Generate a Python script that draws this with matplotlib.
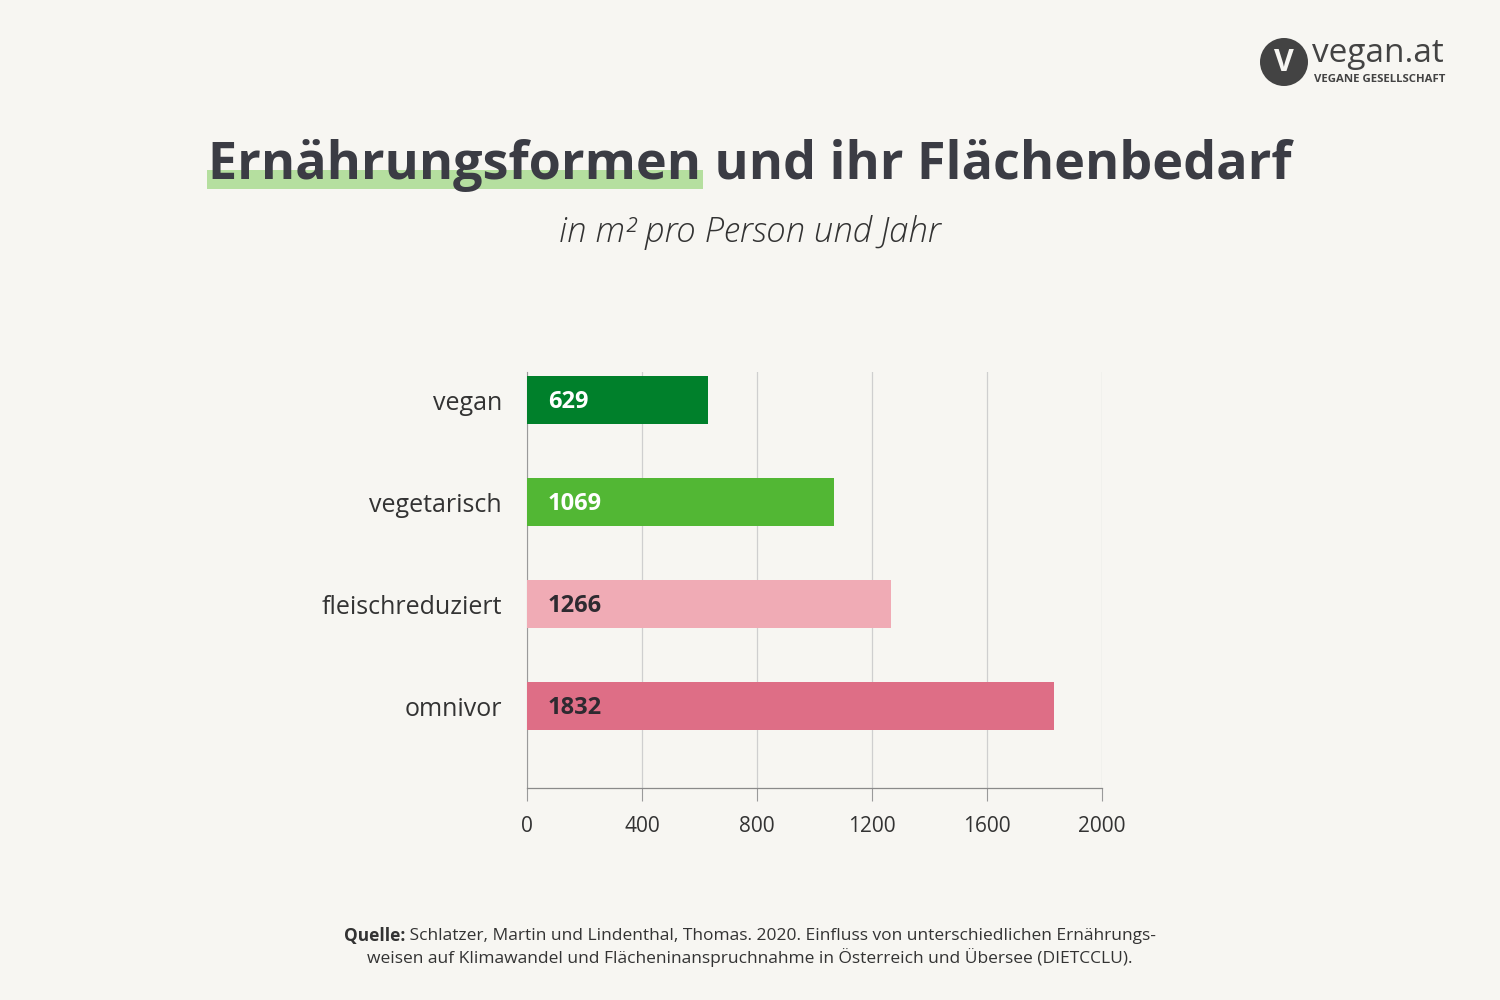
import matplotlib
matplotlib.use("Agg")
import matplotlib.pyplot as plt
from matplotlib.patches import Rectangle, Ellipse

categories = ["vegan", "vegetarisch", "fleischreduziert", "omnivor"]
values = [629, 1069, 1266, 1832]
bar_colors = ["#00802b", "#52b734", "#f0abb5", "#de6e86"]
label_colors = ["white", "white", "#2e2a30", "#2e2a30"]
xticks = [0, 400, 800, 1200, 1600, 2000]

BG = "#f7f6f2"
DARK = "#3b3c44"
FONT = ["Open Sans", "DejaVu Sans"]
plt.rcParams["font.family"] = FONT

fig = plt.figure(figsize=(15, 10), dpi=100, facecolor=BG)
ax = fig.add_axes([527/1500, 1-788/1000, (1102-527)/1500, (788-372)/1000])
ax.set_facecolor(BG)

ypos = list(range(len(categories)))
ax.barh(ypos, values, height=0.47, color=bar_colors, zorder=3)
for y, v, c in zip(ypos, values, label_colors):
    ax.text(72, y + 0.02, str(v), ha="left", va="center", fontsize=17, fontweight="bold",
            color=c, zorder=4)

ax.set_ylim(3.80, -0.275)
ax.set_xlim(0, 2000)
ax.set_xticks(xticks)
ax.set_xticklabels([str(t) for t in xticks], fontsize=15, color="#333333")
ax.set_yticks(ypos)
ax.set_yticklabels(categories, fontsize=18, color="#333333")
ax.tick_params(axis="y", length=0, pad=18)
ax.tick_params(axis="x", length=9, width=0.8, color="#9a9a9a", pad=11)
ax.xaxis.grid(True, color="#cfcfcf", linewidth=0.9, zorder=0)
for s in ["top", "right"]:
    ax.spines[s].set_visible(False)
ax.spines["left"].set_color("#9a9a9a")
ax.spines["left"].set_linewidth(0.8)
ax.spines["bottom"].set_color("#8a8a8a")
ax.spines["bottom"].set_linewidth(0.9)

# Title with highlight under first word
title_y = 1 - 165/1000
t = fig.text(0.5, title_y, "Ernährungsformen und ihr Flächenbedarf", ha="center", va="center",
             fontsize=37.5, fontweight="bold", color=DARK, zorder=3)
fig.canvas.draw()
r = fig.canvas.get_renderer()
bb = t.get_window_extent(r)
tmp = fig.text(0, 0, "Ernährungsformen", fontsize=37.5, fontweight="bold")
w = tmp.get_window_extent(r).width
tmp.remove()
x0 = bb.x0 / 1500
fig.patches.append(Rectangle((x0 - 0.001, 1 - 189/1000), w/1500 + 0.002, 19/1000,
                             transform=fig.transFigure, facecolor="#b5df9f",
                             edgecolor="none", zorder=1))

fig.text(0.5, 1 - 233/1000, "in m² pro Person und Jahr", ha="center", va="center",
         fontsize=25, style="italic", fontweight="light", color="#333333")

# Source
src_fs = 12.5
l1_bold = "Quelle:"
l1_rest = " Schlatzer, Martin und Lindenthal, Thomas. 2020. Einfluss von unterschiedlichen Ernährungs-"
tb = fig.text(0, 0, l1_bold, fontsize=src_fs, fontweight="bold")
tr = fig.text(0, 0, l1_rest, fontsize=src_fs)
wb = tb.get_window_extent(r).width
wr = tr.get_window_extent(r).width
tb.remove(); tr.remove()
start = 0.5 - (wb + wr) / 2 / 1500
fig.text(start, 1 - 936/1000, l1_bold, ha="left", va="center", fontsize=src_fs,
         fontweight="bold", color="#333333")
fig.text(start + wb/1500, 1 - 936/1000, l1_rest, ha="left", va="center", fontsize=src_fs,
         color="#333333")
fig.text(0.5, 1 - 958/1000,
         "weisen auf Klimawandel und Flächeninanspruchnahme in Österreich und Übersee (DIETCCLU).",
         ha="center", va="center", fontsize=src_fs, color="#333333")

# Logo
fig.patches.append(Ellipse((1284/1500, 1 - 62/1000), 48/1500, 48/1000, transform=fig.transFigure,
                           facecolor="#434343", edgecolor="none"))
fig.text(1284/1500, 1 - 63/1000, "V", ha="center", va="center", fontsize=22,
         fontweight="bold", color=BG)
fig.text(1312/1500, 1 - 54/1000, "vegan.at", ha="left", va="center", fontsize=24,
         color="#434343")
fig.text(1314/1500, 1 - 80/1000, "VEGANE GESELLSCHAFT", ha="left", va="center",
         fontsize=8.2, fontweight="bold", color="#434343")

fig.savefig("out.png", dpi=100, facecolor=BG)
